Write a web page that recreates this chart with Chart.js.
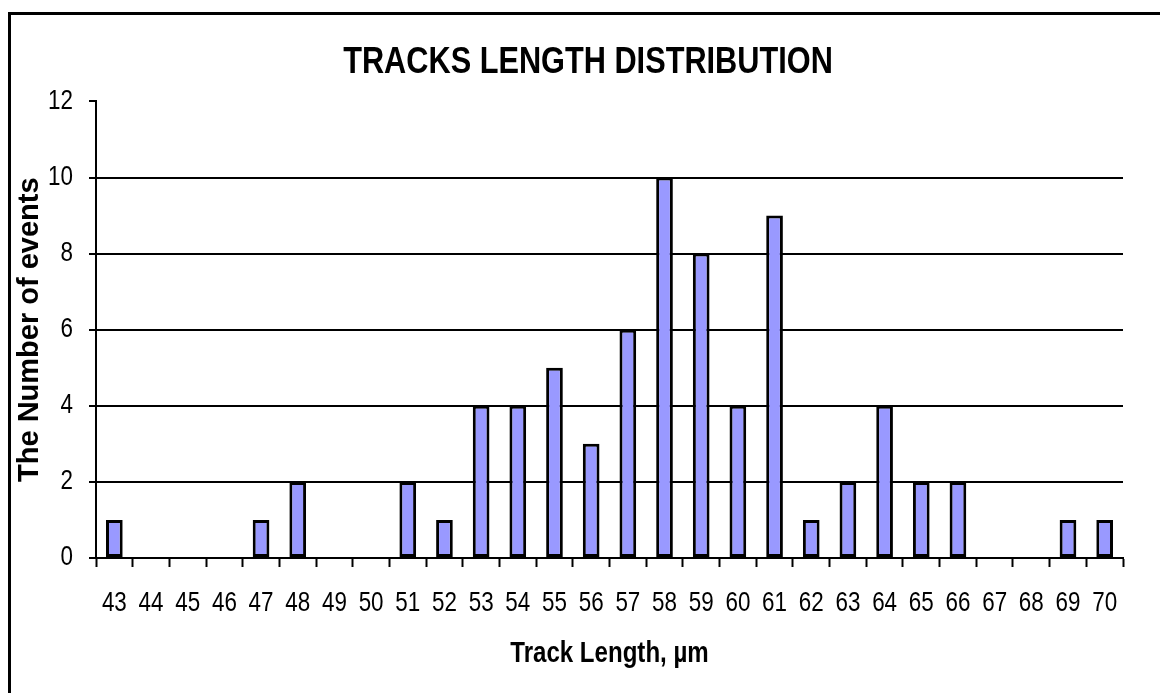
<!DOCTYPE html>
<html>
<head>
<meta charset="utf-8">
<script src="https://cdn.jsdelivr.net/npm/chart.js@4.4.1/dist/chart.umd.min.js"></script>
<style>
    body { margin: 0; background: #fff; overflow: hidden; }
    #marco { position: absolute; left: 8px; top: 12px; width: 1300px; height: 900px; border: 3px solid #000; }
    #grafico { position: absolute; left: 0; top: 0; }
</style>
</head>
<body>
<div id="marco"></div>
<canvas id="grafico" width="1160" height="693"></canvas>
<script>
// Datos
const longitudes = ['43', '44', '45', '46', '47', '48', '49', '50', '51', '52', '53', '54', '55', '56',
    '57', '58', '59', '60', '61', '62', '63', '64', '65', '66', '67', '68', '69', '70'];
const eventos = [1, 0, 0, 0, 1, 2, 0, 0, 2, 1, 4, 4, 5, 3, 6, 10, 8, 4, 9, 1, 2, 4, 2, 2, 0, 0, 1, 1];
const marcasY = [0, 2, 4, 6, 8, 10, 12];

const titulo = 'TRACKS LENGTH DISTRIBUTION';
const tituloX = 'Track Length, µm';
const tituloY = 'The Number of events';

const fuente = "'Liberation Sans', Arial, sans-serif";
const estrechamiento = 0.83; // el texto del original está comprimido en horizontal

const ctx = document.getElementById('grafico').getContext('2d');

// Comprimir el texto horizontalmente (menos el título vertical)
const fillTextOriginal = ctx.fillText.bind(ctx);
ctx.fillText = function (texto, x, y, maxAncho) {
    if (texto === tituloY) {
        return maxAncho === undefined ? fillTextOriginal(texto, x, y) : fillTextOriginal(texto, x, y, maxAncho);
    }
    ctx.save();
    ctx.translate(x, y);
    ctx.scale(estrechamiento, 1);
    fillTextOriginal(texto, 0, 0);
    ctx.restore();
};

let grafico = new Chart(ctx, {
    type: 'bar',
    data: {
        labels: longitudes,
        datasets: [{
            data: eventos,
            backgroundColor: '#9999FF',
            borderColor: '#000000',
            borderWidth: 3,
            borderSkipped: false,
            barPercentage: 0.455,
            categoryPercentage: 1
        }]
    },
    options: {
        responsive: false,
        animation: false,
        layout: { padding: { left: 20, right: 4, top: 0, bottom: 0 } },
        plugins: {
            legend: { display: false },
            tooltip: { enabled: false },
            title: {
                display: true,
                text: titulo,
                color: '#000',
                font: { family: fuente, size: 37, weight: 'bold' },
                padding: { top: 41, bottom: 16 }
            }
        },
        scales: {
            x: {
                offset: true,
                grid: { offset: true, drawOnChartArea: false, drawTicks: true, tickLength: 9, tickWidth: 2, tickColor: '#000' },
                border: { display: true, color: '#000', width: 2 },
                ticks: { color: '#000', font: { family: fuente, size: 27 }, padding: 20, maxRotation: 0, autoSkip: false },
                title: {
                    display: true, text: tituloX, color: '#000',
                    font: { family: fuente, size: 29, weight: 'bold' },
                    padding: { top: 0, bottom: 22 }
                },
                afterFit: (escala) => { escala.height = 135; } // altura fija del eje X
            },
            y: {
                min: 0,
                max: 12,
                afterBuildTicks: (escala) => { escala.ticks = marcasY.map(v => ({ value: v })); },
                grid: {
                    color: (c) => (c.tick && c.tick.value === 12) ? 'rgba(0,0,0,0)' : '#000', // sin línea en 12
                    lineWidth: 2,
                    tickColor: '#000',
                    tickLength: 7,
                    tickWidth: 2
                },
                border: { display: true, color: '#000', width: 2 },
                ticks: { color: '#000', font: { family: fuente, size: 27 }, padding: 16 },
                title: {
                    display: true, text: tituloY, color: '#000',
                    font: { family: fuente, size: 29, weight: 'bold', lineHeight: 0.7 },
                    padding: { top: 0, bottom: 0 }
                },
                afterFit: (escala) => { escala.width = 76; } // ancho fijo del eje Y
            },
            // eje vacío a la derecha, solo para reservar el margen
            derecha: {
                position: 'right',
                grid: { display: false },
                border: { display: false },
                ticks: { display: false },
                afterFit: (escala) => { escala.width = 33; }
            }
        }
    }
});
</script>
</body>
</html>
